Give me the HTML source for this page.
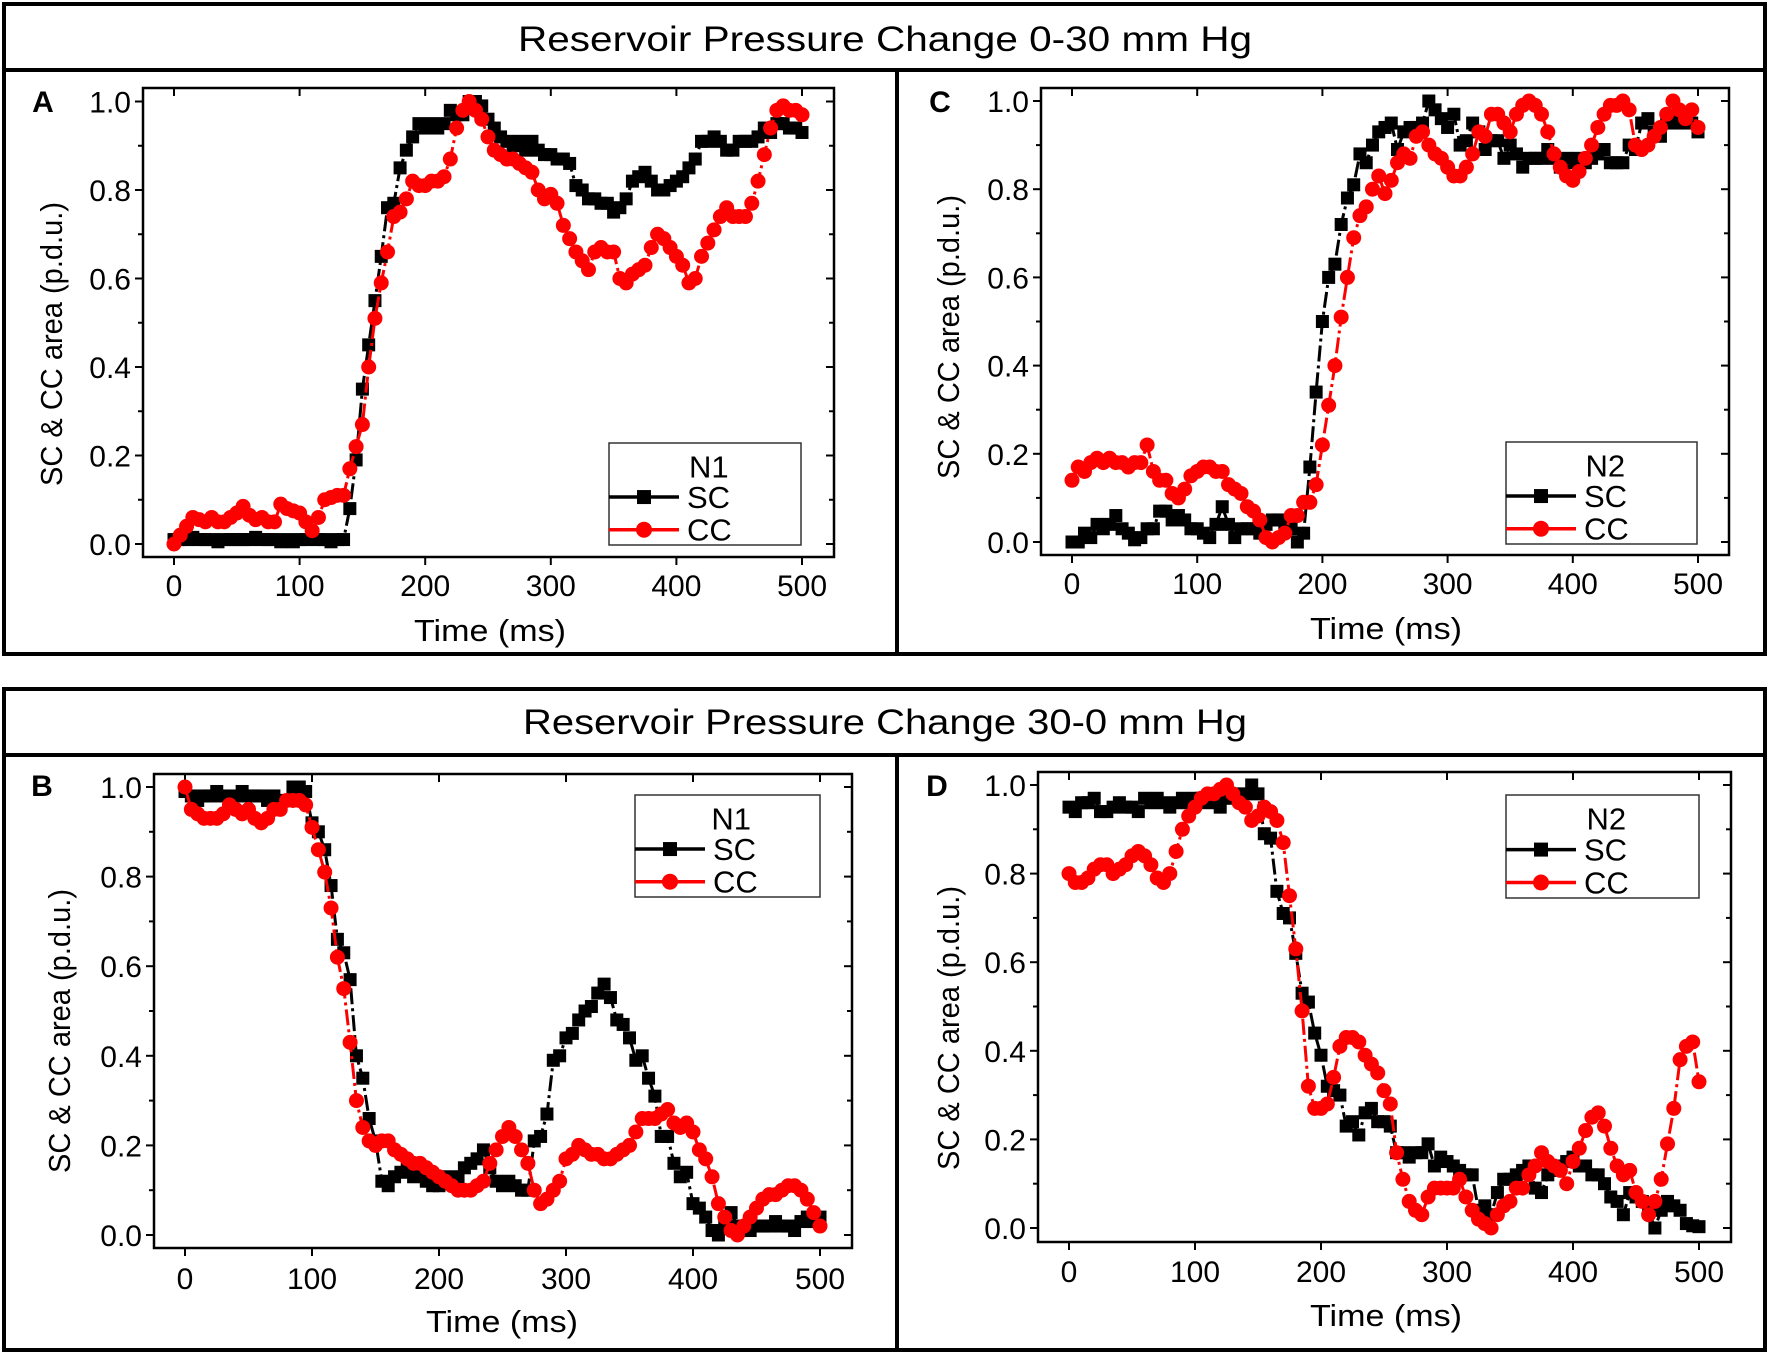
<!DOCTYPE html>
<html><head><meta charset="utf-8"><style>
html,body{margin:0;padding:0;background:#fff;}
svg{display:block;font-family:"Liberation Sans",sans-serif;}
</style></head><body>
<svg id="fig" width="1772" height="1355" viewBox="0 0 1772 1355" xmlns="http://www.w3.org/2000/svg">
<rect x="0" y="0" width="1772" height="1355" fill="#fff"/>
<g>
<rect x="4" y="4" width="1761" height="650" fill="none" stroke="#000" stroke-width="4"/>
<line x1="4" y1="70" x2="1765" y2="70" stroke="#000" stroke-width="4"/>
<line x1="897" y1="70" x2="897" y2="654" stroke="#000" stroke-width="4"/>
<text x="885" y="51" font-size="35" font-family="Liberation Sans Narrow, Liberation Sans, sans-serif" text-anchor="middle" textLength="734" lengthAdjust="spacingAndGlyphs">Reservoir Pressure Change  0-30 mm Hg</text>
</g>
<g>
<rect x="4" y="689" width="1761" height="661" fill="none" stroke="#000" stroke-width="4"/>
<line x1="4" y1="755" x2="1765" y2="755" stroke="#000" stroke-width="4"/>
<line x1="897" y1="755" x2="897" y2="1350" stroke="#000" stroke-width="4"/>
<text x="885" y="734" font-size="35" font-family="Liberation Sans Narrow, Liberation Sans, sans-serif" text-anchor="middle" textLength="724" lengthAdjust="spacingAndGlyphs">Reservoir Pressure Change 30-0 mm Hg</text>
</g>
</svg>
<script>
const times = [];
for (let t = 0; t <= 500; t += 5) times.push(t);
const xTicks = [0,100,200,300,400,500];
const yTicks = [0.0,0.2,0.4,0.6,0.8,1.0];
const yTickLabels = ["0.0","0.2","0.4","0.6","0.8","1.0"];

const scA = [0.01,0.01,0.01,0.015,0.01,0.01,0.01,0.005,0.01,0.01,0.01,0.01,0.01,0.015,0.01,0.01,0.01,0.005,0.01,0.005,0.01,0.01,0.015,0.01,0.01,0.005,0.01,0.01,0.08,0.19,0.35,0.45,0.55,0.65,0.76,0.77,0.85,0.89,0.92,0.95,0.94,0.95,0.94,0.95,0.98,0.97,0.97,1.0,1.0,0.99,0.96,0.94,0.92,0.91,0.90,0.91,0.89,0.91,0.89,0.88,0.88,0.87,0.87,0.86,0.81,0.80,0.78,0.78,0.77,0.77,0.75,0.76,0.78,0.82,0.83,0.84,0.82,0.80,0.80,0.81,0.82,0.83,0.85,0.87,0.91,0.91,0.92,0.91,0.89,0.89,0.91,0.91,0.91,0.92,0.94,0.93,0.95,0.95,0.94,0.94,0.93];
const ccA = [0.0,0.02,0.04,0.06,0.055,0.05,0.06,0.05,0.05,0.06,0.07,0.085,0.065,0.055,0.06,0.05,0.05,0.09,0.08,0.075,0.07,0.05,0.03,0.06,0.10,0.105,0.11,0.11,0.17,0.22,0.27,0.40,0.51,0.59,0.66,0.74,0.75,0.78,0.82,0.81,0.81,0.82,0.82,0.83,0.87,0.94,0.98,1.0,0.98,0.96,0.92,0.89,0.88,0.87,0.87,0.86,0.85,0.84,0.80,0.78,0.79,0.77,0.72,0.69,0.66,0.64,0.62,0.66,0.67,0.66,0.66,0.60,0.59,0.61,0.62,0.63,0.67,0.70,0.69,0.67,0.65,0.63,0.59,0.60,0.65,0.68,0.71,0.74,0.76,0.74,0.74,0.74,0.77,0.82,0.88,0.94,0.98,0.99,0.98,0.98,0.97];
const scC = [0.0,0.0,0.02,0.01,0.04,0.03,0.04,0.06,0.03,0.02,0.005,0.01,0.03,0.03,0.07,0.07,0.05,0.06,0.05,0.03,0.03,0.02,0.01,0.04,0.08,0.04,0.01,0.03,0.03,0.03,0.02,0.04,0.05,0.05,0.04,0.03,0.0,0.02,0.17,0.34,0.50,0.60,0.63,0.72,0.78,0.81,0.88,0.86,0.90,0.93,0.94,0.95,0.89,0.93,0.94,0.94,0.95,1.0,0.98,0.96,0.94,0.97,0.90,0.91,0.95,0.93,0.89,0.91,0.91,0.87,0.90,0.88,0.85,0.87,0.87,0.87,0.89,0.87,0.85,0.87,0.86,0.87,0.86,0.87,0.88,0.89,0.86,0.86,0.86,0.90,0.89,0.95,0.96,0.93,0.92,0.95,0.96,0.95,0.96,0.95,0.93];
const ccC = [0.14,0.17,0.16,0.18,0.19,0.18,0.19,0.18,0.18,0.17,0.18,0.18,0.22,0.16,0.14,0.14,0.11,0.10,0.12,0.15,0.16,0.17,0.17,0.16,0.16,0.13,0.12,0.11,0.08,0.07,0.05,0.01,0.0,0.01,0.02,0.06,0.06,0.09,0.09,0.13,0.22,0.31,0.40,0.51,0.60,0.69,0.74,0.76,0.80,0.83,0.79,0.82,0.86,0.88,0.87,0.92,0.93,0.90,0.88,0.87,0.85,0.83,0.83,0.85,0.88,0.93,0.92,0.97,0.97,0.95,0.93,0.97,0.99,1.0,0.99,0.97,0.93,0.88,0.85,0.83,0.82,0.84,0.87,0.90,0.94,0.97,0.99,0.99,1.0,0.98,0.90,0.89,0.90,0.92,0.94,0.97,1.0,0.98,0.96,0.98,0.94];
const scB = [0.99,0.98,0.97,0.98,0.98,0.99,0.98,0.97,0.98,0.99,0.98,0.98,0.98,0.97,0.98,0.97,0.97,1.0,1.0,0.99,0.92,0.90,0.86,0.78,0.66,0.63,0.57,0.40,0.35,0.26,0.21,0.12,0.11,0.13,0.14,0.15,0.13,0.14,0.12,0.11,0.11,0.13,0.12,0.13,0.15,0.16,0.17,0.19,0.15,0.12,0.11,0.12,0.11,0.10,0.10,0.21,0.22,0.27,0.39,0.40,0.44,0.45,0.48,0.50,0.51,0.54,0.56,0.53,0.48,0.47,0.44,0.39,0.40,0.35,0.31,0.22,0.22,0.16,0.13,0.14,0.07,0.06,0.04,0.01,0.0,0.02,0.05,0.02,0.01,0.01,0.02,0.02,0.02,0.03,0.02,0.02,0.01,0.03,0.04,0.03,0.04];
const ccB = [1.0,0.95,0.94,0.93,0.93,0.93,0.94,0.96,0.95,0.94,0.95,0.93,0.92,0.93,0.95,0.95,0.97,0.97,0.97,0.96,0.91,0.86,0.81,0.73,0.62,0.55,0.43,0.30,0.24,0.21,0.20,0.21,0.21,0.19,0.18,0.17,0.16,0.16,0.15,0.14,0.13,0.12,0.11,0.10,0.10,0.10,0.11,0.12,0.16,0.19,0.22,0.24,0.22,0.19,0.16,0.10,0.07,0.08,0.10,0.12,0.17,0.18,0.20,0.19,0.18,0.18,0.17,0.17,0.18,0.19,0.20,0.23,0.26,0.26,0.26,0.27,0.28,0.25,0.24,0.25,0.23,0.19,0.17,0.13,0.07,0.04,0.01,0.0,0.02,0.04,0.06,0.08,0.09,0.09,0.10,0.11,0.11,0.10,0.08,0.05,0.02];
const scD = [0.95,0.94,0.96,0.96,0.97,0.94,0.94,0.95,0.96,0.95,0.95,0.94,0.97,0.96,0.97,0.96,0.95,0.96,0.97,0.96,0.97,0.97,0.96,0.97,0.95,0.97,0.98,0.97,0.98,1.0,0.98,0.89,0.88,0.76,0.71,0.70,0.62,0.53,0.51,0.44,0.39,0.32,0.31,0.30,0.23,0.24,0.21,0.26,0.27,0.24,0.24,0.23,0.17,0.17,0.16,0.17,0.17,0.19,0.14,0.16,0.15,0.14,0.13,0.12,0.12,0.04,0.05,0.03,0.08,0.11,0.11,0.12,0.13,0.14,0.09,0.08,0.12,0.13,0.14,0.15,0.16,0.14,0.14,0.12,0.12,0.10,0.07,0.06,0.03,0.08,0.07,0.06,0.04,0.0,0.04,0.06,0.05,0.04,0.01,0.005,0.003];
const ccD = [0.80,0.78,0.78,0.79,0.81,0.82,0.82,0.80,0.81,0.82,0.84,0.85,0.84,0.82,0.79,0.78,0.80,0.85,0.90,0.93,0.95,0.97,0.98,0.98,0.99,1.0,0.98,0.96,0.95,0.92,0.93,0.95,0.94,0.92,0.87,0.75,0.63,0.49,0.32,0.27,0.27,0.28,0.34,0.41,0.43,0.43,0.42,0.39,0.37,0.35,0.31,0.28,0.17,0.11,0.06,0.04,0.03,0.07,0.09,0.09,0.09,0.09,0.11,0.07,0.04,0.02,0.01,0.0,0.03,0.05,0.06,0.09,0.09,0.12,0.14,0.17,0.15,0.14,0.13,0.10,0.15,0.18,0.22,0.25,0.26,0.23,0.18,0.14,0.12,0.13,0.08,0.06,0.03,0.06,0.11,0.19,0.27,0.38,0.41,0.42,0.33];

const NS = "http://www.w3.org/2000/svg";
const svg = document.getElementById('fig');
function mk(tag, attrs, parent) {
  const e = document.createElementNS(NS, tag);
  for (const k in attrs) e.setAttribute(k, attrs[k]);
  (parent || svg).appendChild(e);
  return e;
}

const panels = [
  {id:'a', letter:'A', legend:'N1', sc:scA, cc:ccA, x0:174, x5:802, y0:544, y1:101.5, fl:143, fr:834, ft:88, fb:557, lg:[609,443,801,545], lx:43, ly:112, yt:[51,344], tick:585, tl:[490,641]},
  {id:'c', letter:'C', legend:'N2', sc:scC, cc:ccC, x0:1072, x5:1698, y0:542, y1:101, fl:1041, fr:1729, ft:88, fb:555, lg:[1506,442,1697,544], lx:940, ly:112, yt:[948,337], tick:583, tl:[1386,639]},
  {id:'b', letter:'B', legend:'N1', sc:scB, cc:ccB, x0:185, x5:820, y0:1235, y1:787, fl:154, fr:852, ft:774, fb:1248, lg:[635,795,820,897], lx:42, ly:796, yt:[59,1031], tick:1278, tl:[502,1332]},
  {id:'d', letter:'D', legend:'N2', sc:scD, cc:ccD, x0:1069, x5:1699, y0:1228, y1:785, fl:1038, fr:1731, ft:772, fb:1242, lg:[1506,795,1699,898], lx:937, ly:796, yt:[948,1028], tick:1271, tl:[1386,1326]}
];

panels.forEach(p => {
  const xs = t => p.x0 + (p.x5 - p.x0) * t / 500;
  const ys = v => p.y0 + (p.y1 - p.y0) * v;
  const g = mk('g', {});
  
  
  const fr = mk('rect', {x:p.fl, y:p.ft, width:p.fr-p.fl, height:p.fb-p.ft, fill:'none', stroke:'#000', 'stroke-width':2.5}, g);
  
  
  for (let k = 0; k <= 10; k++) {
    const v = k / 10;
    const len = k % 2 === 0 ? 8 : 5;
    const y = ys(v);
    mk('line', {x1:p.fl-len, y1:y, x2:p.fl, y2:y, stroke:'#000', 'stroke-width':2}, g);
    mk('line', {x1:p.fr, y1:y, x2:p.fr-len, y2:y, stroke:'#000', 'stroke-width':2}, g);
  }
  yTicks.forEach((v, i) => {
    const t = mk('text', {x:p.fl-12, y:ys(v)+11, 'font-size':30, 'text-anchor':'end'}, g);
    
    
    t.textContent = yTickLabels[i];
  });
  xTicks.forEach(v => {
    const x = xs(v);
    mk('line', {x1:x, y1:p.fb, x2:x, y2:p.fb+8, stroke:'#000', 'stroke-width':2}, g);
    mk('line', {x1:x, y1:p.ft, x2:x, y2:p.ft+8, stroke:'#000', 'stroke-width':2}, g);
    const t = mk('text', {x:x, y:p.tick+11, 'font-size':30, 'text-anchor':'middle'}, g);
    
    
    t.textContent = String(v);
  });
  const xt = mk('text', {x:p.tl[0], y:p.tl[1], 'font-size':31, 'text-anchor':'middle', textLength:152, lengthAdjust:'spacingAndGlyphs'}, g);
  
  
  xt.textContent = 'Time (ms)';
  const yt = mk('text', {x:0, y:0, 'font-size':31, 'text-anchor':'middle', textLength:284, lengthAdjust:'spacingAndGlyphs', transform:`translate(${p.yt[0]+11},${p.yt[1]}) rotate(-90)`}, g);
  
  
  yt.textContent = 'SC & CC area (p.d.u.)';
  const lt = mk('text', {x:p.lx, y:p.ly, 'font-size':30, 'font-weight':'bold', 'text-anchor':'middle'}, g);
  
  
  lt.textContent = p.letter;

  const series = [
    {vals:p.sc, color:'#000000', marker:'square', name:'sc'},
    {vals:p.cc, color:'#ff0000', marker:'circle', name:'cc'}
  ];
  series.forEach(s => {
    const pts = s.vals.map((v, i) => xs(times[i]).toFixed(1) + ',' + ys(v).toFixed(1)).join(' ');
    const pl = mk('polyline', {points:pts, fill:'none', stroke:s.color, 'stroke-width':3, 'stroke-dasharray':'16,4,3,4'}, g);
    
    
    s.vals.forEach((v, i) => {
      let m;
      if (s.marker === 'square') {
        m = mk('rect', {x:xs(times[i])-6.5, y:ys(v)-6.5, width:13, height:13, fill:s.color}, g);
      } else {
        m = mk('circle', {cx:xs(times[i]), cy:ys(v), r:7.5, fill:s.color}, g);
      }
      
      
    });
  });

  const [lx1, ly1, lx2, ly2] = p.lg;
  const lgG = mk('g', {}, g);
  
  
  mk('rect', {x:lx1, y:ly1, width:lx2-lx1, height:ly2-ly1, fill:'#fff', stroke:'#333', 'stroke-width':1.5}, lgG);
  const h = ly2 - ly1;
  const tt = mk('text', {x:lx1 + (lx2-lx1)*0.52, y:ly1 + h*0.23 + 11, 'font-size':31, 'text-anchor':'middle'}, lgG);
  
  
  tt.textContent = p.legend;
  [['SC','#000','square',0.53],['CC','#ff0000','circle',0.85]].forEach(e => {
    const yy = ly1 + h*e[3];
    const entry = mk('g', {}, lgG);
    
    
    mk('line', {x1:lx1, y1:yy, x2:lx1+70, y2:yy, stroke:e[1], 'stroke-width':3.5}, entry);
    if (e[2] === 'square') mk('rect', {x:lx1+28, y:yy-7, width:14, height:14, fill:e[1]}, entry);
    else mk('circle', {cx:lx1+35, cy:yy, r:8, fill:e[1]}, entry);
    const t = mk('text', {x:lx1+78, y:yy+11, 'font-size':31}, entry);
    t.textContent = e[0];
  });
});
</script>
</body></html>
